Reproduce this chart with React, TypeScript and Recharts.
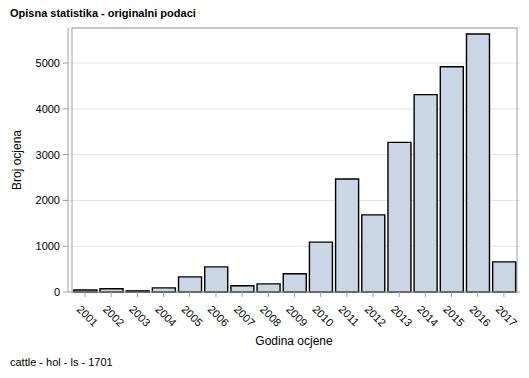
import React from 'react';
import { BarChart, Bar, XAxis, YAxis, CartesianGrid, ReferenceArea } from 'recharts';

const years = ['2001','2002','2003','2004','2005','2006','2007','2008','2009','2010','2011','2012','2013','2014','2015','2016','2017'];
const counts = [45, 70, 25, 90, 330, 548, 135, 178, 400, 1090, 2467, 1685, 3268, 4310, 4920, 5635, 657];
const yTicks = [0, 1000, 2000, 3000, 4000, 5000];
const yMax = 5765;

const data = years.map((y, i) => ({ year: y, count: counts[i] }));

const FONT = 'Arial, "Liberation Sans", Helvetica, sans-serif';

const XTick = (props: any) => {
  const { x, y, payload } = props;
  return (
    <text x={x - 9} y={y + 11} transform={`rotate(45, ${x - 9}, ${y + 11})`} textAnchor="start" fontSize={11} fill="#000" fontFamily={FONT}>
      {payload.value}
    </text>
  );
};

const YLabel = (props: any) => {
  const vb = props.viewBox || {};
  const cy = vb.y + vb.height / 2;
  const cx = 17;
  return (
    <text x={cx} y={cy} transform={`rotate(-90, ${cx}, ${cy})`} textAnchor="middle" dominantBaseline="central" fontSize={12} fill="#000" fontFamily={FONT}>
      Broj ocjena
    </text>
  );
};

const XLabel = (props: any) => {
  const vb = props.viewBox || {};
  const cx = vb.x + vb.width / 2;
  return (
    <text x={cx} y={345} textAnchor="middle" fontSize={12} fill="#000" fontFamily={FONT}>
      Godina ocjene
    </text>
  );
};

export default function App() {
  return (
    <div style={{ position: 'fixed', left: 0, top: 0, width: 529, height: 378, background: '#fff', fontFamily: FONT }}>
      <div style={{ position: 'absolute', left: 10, top: 7, fontSize: 11, fontWeight: 'bold', color: '#000', whiteSpace: 'nowrap' }}>
        Opisna statistika - originalni podaci
      </div>
      <BarChart width={529} height={378} data={data} margin={{ top: 28, right: 9, left: 0, bottom: 0 }} barCategoryGap="7%">
        <CartesianGrid horizontal vertical={false} stroke="#e3e3e3" />
        <XAxis
          dataKey="year"
          height={86}
          tick={<XTick />}
          tickSize={5}
          axisLine={{ stroke: '#a0a0a0' }}
          tickLine={{ stroke: '#a0a0a0' }}
          interval={0}
          padding={{ left: 4, right: 3 }}
          label={<XLabel />}
        />
        <YAxis
          width={68}
          domain={[0, yMax]}
          ticks={yTicks}
          tickSize={5}
          tickMargin={3}
          axisLine={{ stroke: '#a0a0a0' }}
          tickLine={{ stroke: '#a0a0a0' }}
          tick={{ fontSize: 11, fill: '#000', fontFamily: FONT }}
          label={<YLabel />}
        />
        <ReferenceArea y1={0} y2={yMax} fill="none" stroke="#a0a0a0" strokeWidth={1} ifOverflow="visible" />
        <Bar dataKey="count" fill="#cad5e5" stroke="#000" strokeWidth={1.4} isAnimationActive={false} />
      </BarChart>
      <div style={{ position: 'absolute', left: 10, top: 356, fontSize: 11, color: '#000', whiteSpace: 'nowrap' }}>
        cattle - hol - ls - 1701
      </div>
    </div>
  );
}
